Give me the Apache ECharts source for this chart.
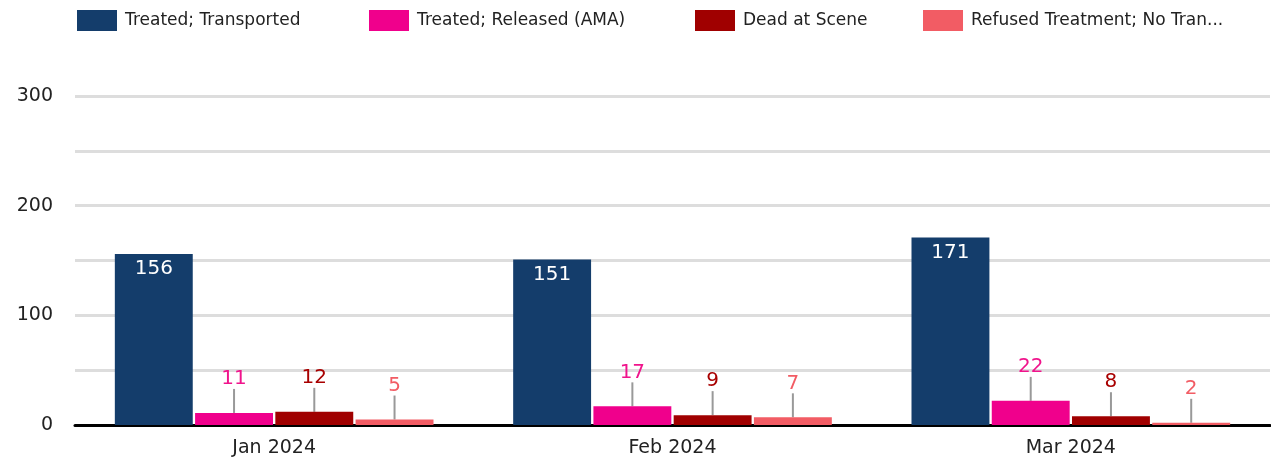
<!DOCTYPE html>
<html>
<head>
<meta charset="utf-8">
<script src="https://cdn.jsdelivr.net/npm/echarts@6/dist/echarts.min.js"></script>
<style>
  html, body { margin: 0; padding: 0; background: #fff; }
  #chart { width: 1271px; height: 465px; }
</style>
</head>
<body>
<div id="chart"></div>
<script>
// data
const months = ["Jan 2024", "Feb 2024", "Mar 2024"]
const seriesNames = ["Treated; Transported", "Treated; Released (AMA)", "Dead at Scene", "Refused Treatment; No Transport"]
const transported = [156, 151, 171]
const released = [11, 17, 22]
const deadAtScene = [12, 9, 8]
const refused = [5, 7, 2]
const yTicks = [0, 100, 200, 300]

const FONT = '"DejaVu Sans", sans-serif'
const legendLeft = [77, 369, 695, 923]

// labels above the small bars with a grey leader line
function outsideLabel(color) {
  return {
    label: {
      show: true,
      position: "top",
      distance: 4,
      color: color,
      fontSize: 20,
      fontFamily: FONT
    },
    labelLayout: { dy: -20 },
    labelLine: {
      show: true,
      lineStyle: { color: "#999", width: 2 }
    }
  }
}

// one legend per item so the spacing follows the reference
const legends = seriesNames.map((n, i) => ({
  data: [n],
  left: legendLeft[i],
  top: 10,
  padding: 0,
  itemWidth: 40,
  itemHeight: 21,
  icon: "rect",
  textStyle: {
    fontSize: 17,
    color: "#222",
    fontFamily: FONT,
    padding: [0, 0, 0, 3],
    width: 262,
    overflow: "truncate",
    ellipsis: "..."
  }
}))

const chart = echarts.init(document.getElementById("chart"))
const option = {
  animation: false,
  textStyle: { fontFamily: FONT },
  legend: legends,
  grid: {
    left: 75,
    right: 1,
    top: 96,
    bottom: 40,
    containLabel: false
  },
  xAxis: {
    type: "category",
    data: months,
    axisTick: { show: false },
    axisLine: { lineStyle: { color: "#000", width: 3 } },
    axisLabel: { fontSize: 19, color: "#222", margin: 14 }
  },
  yAxis: {
    type: "value",
    min: 0,
    max: 300,
    interval: 50,
    axisLine: { show: false },
    axisTick: { show: false },
    splitLine: { lineStyle: { color: "#ddd", width: 3 } },
    axisLabel: {
      fontSize: 19,
      color: "#222",
      margin: 22,
      formatter: v => (yTicks.includes(v) ? v : "")
    }
  },
  series: [
    {
      name: seriesNames[0],
      type: "bar",
      data: transported,
      barGap: "3%",
      barCategoryGap: "20%",
      itemStyle: { color: "#143d6b" },
      label: {
        show: true,
        position: "insideTop",
        distance: 5,
        color: "#fff",
        fontSize: 20,
        fontFamily: FONT
      }
    },
    Object.assign({
      name: seriesNames[1],
      type: "bar",
      data: released,
      itemStyle: { color: "#f0008c" }
    }, outsideLabel("#f0148c")),
    Object.assign({
      name: seriesNames[2],
      type: "bar",
      data: deadAtScene,
      itemStyle: { color: "#a00000" }
    }, outsideLabel("#a80000")),
    Object.assign({
      name: seriesNames[3],
      type: "bar",
      data: refused,
      itemStyle: { color: "#f25c64" }
    }, outsideLabel("#f25c64"))
  ]
}
chart.setOption(option)
window.addEventListener("resize", () => chart.resize())
</script>
</body>
</html>
